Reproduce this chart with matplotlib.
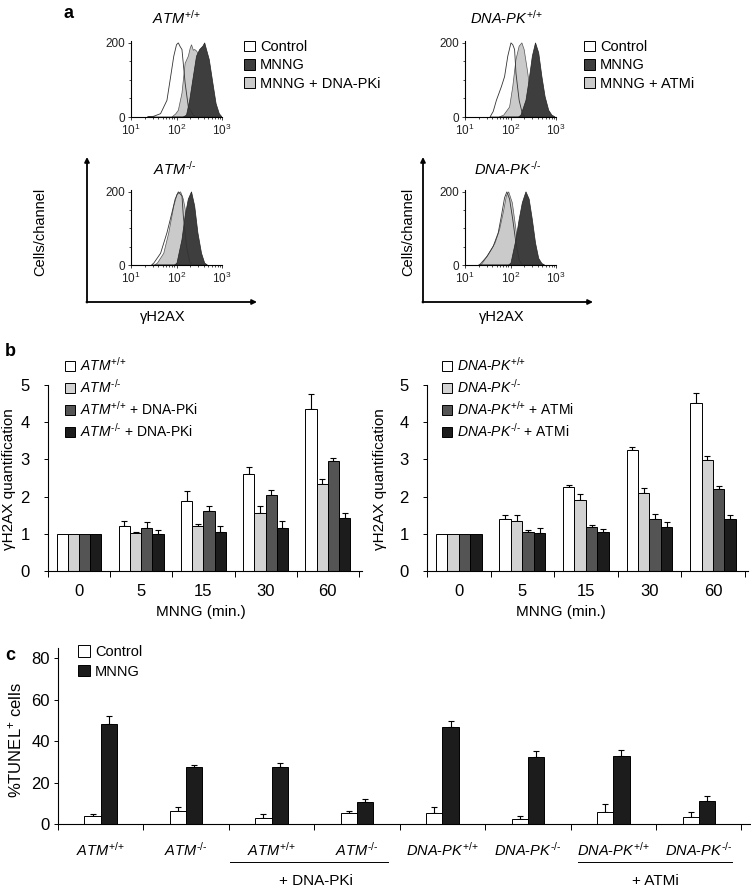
import numpy as np
import matplotlib
matplotlib.use('Agg')
import matplotlib.pyplot as plt
from matplotlib.patches import Patch

plt.rcParams['font.family'] = ['Liberation Sans', 'DejaVu Sans']
plt.rcParams['mathtext.fontset'] = 'custom'
plt.rcParams['mathtext.rm'] = 'Liberation Sans'
plt.rcParams['mathtext.it'] = 'Liberation Sans:italic'
plt.rcParams['mathtext.bf'] = 'Liberation Sans:bold'
plt.rcParams['axes.linewidth'] = 0.8

W, H = 751, 891
HY = '\u2010'

# ---------------- labels ----------------
SUP_WT = '^{{+}/{+}}'
SUP_KO = '^{' + HY + '/' + HY + '}'
ATM_WT = '$\\mathit{ATM}' + SUP_WT + '$'
ATM_KO = '$\\mathit{ATM}' + SUP_KO + '$'
DPK_WT = '$\\mathit{DNA' + HY + 'PK}' + SUP_WT + '$'
DPK_KO = '$\\mathit{DNA' + HY + 'PK}' + SUP_KO + '$'

# ---------------- panel a: histograms (log10 gammaH2AX, cells/channel) ----------------
hist_titles = [ATM_WT, DPK_WT, ATM_KO, DPK_KO]

tl_ctrl_x = [1.36, 1.50, 1.65, 1.79, 1.86, 1.94, 2.00, 2.04, 2.08, 2.12, 2.19, 2.26, 2.37, 2.45]
tl_ctrl_y = [0, 2, 9, 45, 100, 164, 195, 200, 190, 182, 91, 27, 5, 0]
tl_gray_x = [1.90, 1.98, 2.04, 2.12, 2.19, 2.26, 2.30, 2.33, 2.37, 2.40, 2.44, 2.51, 2.58, 2.65, 2.72, 2.80, 2.88]
tl_gray_y = [0, 8, 18, 64, 145, 164, 185, 195, 180, 182, 178, 164, 150, 120, 80, 35, 0]
tl_dark_x = [2.15, 2.22, 2.29, 2.37, 2.44, 2.51, 2.58, 2.62, 2.65, 2.72, 2.80, 2.87, 2.94, 3.00]
tl_dark_y = [0, 5, 45, 109, 164, 182, 191, 200, 186, 155, 91, 36, 9, 0]

tr_ctrl_x = [1.55, 1.62, 1.69, 1.80, 1.87, 1.94, 2.01, 2.05, 2.09, 2.12, 2.19, 2.26, 2.32]
tr_ctrl_y = [0, 15, 45, 82, 109, 164, 200, 195, 182, 118, 45, 9, 0]
tr_gray_x = [1.75, 1.85, 1.98, 2.05, 2.12, 2.19, 2.25, 2.30, 2.37, 2.44, 2.51, 2.59, 2.66]
tr_gray_y = [0, 5, 27, 82, 155, 191, 200, 182, 127, 64, 18, 3, 0]
tr_dark_x = [2.18, 2.23, 2.34, 2.41, 2.48, 2.55, 2.62, 2.69, 2.76, 2.84, 2.91, 2.98]
tr_dark_y = [0, 5, 45, 100, 164, 200, 173, 109, 55, 18, 5, 0]

bl_ctrl_x = [1.45, 1.50, 1.65, 1.79, 1.90, 1.97, 2.04, 2.12, 2.15, 2.22, 2.29, 2.35]
bl_ctrl_y = [0, 5, 32, 88, 143, 180, 200, 189, 134, 51, 9, 0]
bl_gray_x = [1.52, 1.58, 1.72, 1.83, 1.94, 2.01, 2.09, 2.15, 2.22, 2.29, 2.37, 2.44, 2.50]
bl_gray_y = [0, 5, 32, 88, 161, 193, 200, 180, 134, 69, 23, 5, 0]
bl_dark_x = [1.96, 2.01, 2.12, 2.19, 2.26, 2.33, 2.40, 2.47, 2.55, 2.62, 2.68]
bl_dark_y = [0, 5, 69, 134, 180, 200, 161, 88, 32, 5, 0]

br_ctrl_x = [1.30, 1.34, 1.48, 1.62, 1.73, 1.80, 1.87, 1.92, 1.98, 2.05, 2.12, 2.19, 2.26]
br_ctrl_y = [0, 3, 23, 51, 88, 134, 184, 200, 180, 124, 60, 14, 0]
br_gray_x = [1.32, 1.37, 1.51, 1.66, 1.76, 1.84, 1.91, 1.96, 2.04, 2.12, 2.19, 2.26, 2.32]
br_gray_y = [0, 3, 28, 60, 97, 143, 189, 200, 170, 97, 41, 9, 0]
br_dark_x = [1.96, 2.01, 2.12, 2.19, 2.26, 2.34, 2.41, 2.48, 2.55, 2.62, 2.69, 2.75]
br_dark_y = [0, 5, 69, 124, 170, 200, 180, 124, 60, 18, 4, 0]

legend_a_left = ['Control', 'MNNG', 'MNNG + DNA-PKi']
legend_a_right = ['Control', 'MNNG', 'MNNG + ATMi']

# ---------------- panel b: gammaH2AX quantification ----------------
times = ['0', '5', '15', '30', '60']
b_left_labels = [ATM_WT, ATM_KO, ATM_WT + ' + DNA-PKi', ATM_KO + ' + DNA-PKi']
atm_wt = [1.0, 1.22, 1.89, 2.60, 4.35]
atm_wt_err = [0, 0.13, 0.27, 0.20, 0.42]
atm_ko = [1.0, 1.01, 1.20, 1.55, 2.34]
atm_ko_err = [0, 0.04, 0.06, 0.20, 0.13]
atm_wt_dpki = [1.0, 1.15, 1.60, 2.05, 2.95]
atm_wt_dpki_err = [0, 0.18, 0.15, 0.13, 0.09]
atm_ko_dpki = [1.0, 0.99, 1.04, 1.15, 1.42]
atm_ko_dpki_err = [0, 0.10, 0.18, 0.19, 0.14]

b_right_labels = [DPK_WT, DPK_KO, DPK_WT + ' + ATMi', DPK_KO + ' + ATMi']
dpk_wt = [1.0, 1.41, 2.26, 3.25, 4.51]
dpk_wt_err = [0, 0.09, 0.05, 0.07, 0.27]
dpk_ko = [1.0, 1.35, 1.90, 2.11, 2.98]
dpk_ko_err = [0, 0.15, 0.18, 0.12, 0.10]
dpk_wt_atmi = [1.0, 1.05, 1.19, 1.39, 2.20]
dpk_wt_atmi_err = [0, 0.04, 0.06, 0.15, 0.09]
dpk_ko_atmi = [1.0, 1.03, 1.05, 1.19, 1.39]
dpk_ko_atmi_err = [0, 0.13, 0.07, 0.13, 0.11]

# ---------------- panel c: TUNEL ----------------
c_groups = [ATM_WT, ATM_KO, ATM_WT, ATM_KO, DPK_WT, DPK_KO, DPK_WT, DPK_KO]
c_control = [3.8, 6.2, 3.0, 5.1, 5.1, 2.4, 5.6, 3.2]
c_control_err = [0.8, 1.8, 1.6, 1.3, 2.9, 1.4, 4.0, 2.4]
c_mnng = [48.4, 27.6, 27.6, 10.4, 46.8, 32.4, 32.9, 11.1]
c_mnng_err = [3.7, 1.1, 1.9, 1.9, 2.9, 2.9, 2.7, 2.4]

# ---------------- style ----------------
C_WHITE = '#ffffff'
C_LIGHT = '#d2d2d2'
C_DARK = '#545454'
C_BLACK = '#1c1c1c'
H_GRAY = '#cacaca'
H_DARK = '#3e3e3e'

fig = plt.figure(figsize=(W / 100, H / 100), dpi=100)


def add_ax(x0, y0, x1, y1):
    return fig.add_axes([x0 / W, 1 - y1 / H, (x1 - x0) / W, (y1 - y0) / H])


ov = fig.add_axes([0, 0, 1, 1])
ov.set_xlim(0, W)
ov.set_ylim(H, 0)
ov.axis('off')


def hist_ax(box, ctrl, gray, dark, title, title_xy):
    ax = add_ax(*box)
    ax.fill(10 ** np.array(gray[0]), gray[1], facecolor=H_GRAY, edgecolor='#555555', lw=0.5, zorder=1)
    ax.fill(10 ** np.array(dark[0]), dark[1], facecolor=H_DARK, edgecolor='#222222', lw=0.5, zorder=2)
    ax.fill(10 ** np.array(ctrl[0]), ctrl[1], facecolor='none', edgecolor='#333333', lw=0.6, zorder=3)
    ax.set_xscale('log')
    ax.set_xlim(10, 1000)
    ax.set_ylim(0, 205)
    ax.set_yticks([0, 200])
    ax.set_yticks([50, 100, 150], minor=True)
    for s in ['top', 'right']:
        ax.spines[s].set_visible(False)
    ax.tick_params(axis='both', which='major', labelsize=8.5, length=2.5, width=0.6,
                   pad=2, colors='#222222')
    ax.tick_params(axis='both', which='minor', length=1.5, width=0.5)
    ax.patch.set_alpha(0)
    ov.text(title_xy[0], title_xy[1], title, ha='center', va='center', fontsize=10.5)
    return ax


hist_ax((131, 41, 222, 117), (tl_ctrl_x, tl_ctrl_y), (tl_gray_x, tl_gray_y),
        (tl_dark_x, tl_dark_y), hist_titles[0], (176, 18))
hist_ax((465, 41, 556, 117), (tr_ctrl_x, tr_ctrl_y), (tr_gray_x, tr_gray_y),
        (tr_dark_x, tr_dark_y), hist_titles[1], (506, 18))
hist_ax((131, 190, 222, 265), (bl_ctrl_x, bl_ctrl_y), (bl_gray_x, bl_gray_y),
        (bl_dark_x, bl_dark_y), hist_titles[2], (175, 169))
hist_ax((465, 190, 556, 265), (br_ctrl_x, br_ctrl_y), (br_gray_x, br_gray_y),
        (br_dark_x, br_dark_y), hist_titles[3], (508, 169))


def box_legend(labels, colors, x, y, fs, spacing, hl=0.75):
    handles = [Patch(facecolor=c, edgecolor='black', linewidth=0.7) for c in colors]
    fig.legend(handles, labels, loc='upper left', bbox_to_anchor=(x / W, 1 - y / H),
               bbox_transform=fig.transFigure, frameon=False, borderpad=0,
               borderaxespad=0, handlelength=hl, handleheight=hl, handletextpad=0.35,
               labelspacing=spacing, fontsize=fs)


box_legend(legend_a_left, [C_WHITE, H_DARK, H_GRAY], 244, 40, 10.5, 0.3)
box_legend(legend_a_right, [C_WHITE, H_DARK, H_GRAY], 584, 40, 10.5, 0.3)

# axes arrows panel a
arrow_kw = dict(arrowstyle='-|>', lw=1.3, color='black', mutation_scale=7,
                shrinkA=0, shrinkB=0)
for xa, xe in [(87, 257), (423, 593)]:
    ov.annotate('', xy=(xa, 157), xytext=(xa, 302.6), arrowprops=arrow_kw)
    ov.annotate('', xy=(xe, 302), xytext=(xa - 0.6, 302), arrowprops=arrow_kw)
ov.text(40, 232, 'Cells/channel', rotation=90, ha='center', va='center', fontsize=10.5)
ov.text(408, 232, 'Cells/channel', rotation=90, ha='center', va='center', fontsize=10.5)
ov.text(163, 317, '\u03b3H2AX', ha='center', va='center', fontsize=10.5)
ov.text(502, 317, '\u03b3H2AX', ha='center', va='center', fontsize=10.5)

# panel letters
ov.text(68, 14, 'a', ha='center', va='center', fontsize=13, fontweight='bold')
ov.text(10, 352, 'b', ha='center', va='center', fontsize=13, fontweight='bold')
ov.text(10, 655, 'c', ha='center', va='center', fontsize=13, fontweight='bold')


# ---------------- panel b ----------------
def bar_panel(box, series, errs, labels, leg_x, label_x, xlab_x):
    ax = add_ax(*box)
    x = np.arange(len(times))
    colors = [C_WHITE, C_LIGHT, C_DARK, C_BLACK]
    w = 0.18
    offs = [-1.5 * w, -0.5 * w, 0.5 * w, 1.5 * w]
    for s, e, c, o in zip(series, errs, colors, offs):
        ax.bar(x + o, s, width=w, color=c, edgecolor='black', linewidth=0.7, zorder=2)
        s = np.array(s)
        e = np.array(e)
        m = e > 0
        ax.errorbar((x + o)[m], s[m], yerr=[np.zeros(m.sum()), e[m]], fmt='none',
                    ecolor='black', elinewidth=0.8, capsize=2.5, capthick=0.8, zorder=1)
    ax.set_xlim(-0.5, 4.55)
    ax.set_ylim(0, 5)
    ax.set_xticks(x)
    ax.set_xticklabels(times)
    ax.set_xticks(np.arange(-0.5, 5.0, 1.0), minor=True)
    ax.tick_params(axis='x', which='major', length=0, labelsize=12, pad=9)
    ax.tick_params(axis='x', which='minor', length=4, width=0.7, direction='out')
    ax.set_yticks(range(6))
    ax.tick_params(axis='y', length=3, width=0.7, labelsize=12, pad=10)
    for sp in ['top', 'right']:
        ax.spines[sp].set_visible(False)
    ax.patch.set_alpha(0)
    box_legend(labels, colors, leg_x, 356, 10, 0.3, hl=0.7)
    ov.text(label_x, 479, '\u03b3H2AX quantification', rotation=90, ha='center',
            va='center', fontsize=11)
    ov.text(xlab_x, 612, 'MNNG (min.)', ha='center', va='center', fontsize=11)
    return ax


bar_panel((48, 385, 362, 571), [atm_wt, atm_ko, atm_wt_dpki, atm_ko_dpki],
          [atm_wt_err, atm_ko_err, atm_wt_dpki_err, atm_ko_dpki_err],
          b_left_labels, 65, 9, 201)
bar_panel((427, 385, 748, 571), [dpk_wt, dpk_ko, dpk_wt_atmi, dpk_ko_atmi],
          [dpk_wt_err, dpk_ko_err, dpk_wt_atmi_err, dpk_ko_atmi_err],
          b_right_labels, 442, 380, 561)

# ---------------- panel c ----------------
axc = add_ax(58, 648, 750, 824)
xc = np.arange(len(c_groups))
wc = 0.19
axc.bar(xc - wc / 2, c_control, width=wc, color=C_WHITE, edgecolor='black', linewidth=0.7, zorder=2)
axc.bar(xc + wc / 2, c_mnng, width=wc, color=C_BLACK, edgecolor='black', linewidth=0.7, zorder=2)
axc.errorbar(xc - wc / 2, c_control, yerr=[np.zeros(len(xc)), c_control_err], fmt='none',
             ecolor='black', elinewidth=0.8, capsize=2.5, capthick=0.8, zorder=1)
axc.errorbar(xc + wc / 2, c_mnng, yerr=[np.zeros(len(xc)), c_mnng_err], fmt='none',
             ecolor='black', elinewidth=0.8, capsize=2.5, capthick=0.8, zorder=1)
axc.set_xlim(-0.5, 7.6)
axc.set_ylim(0, 85)
axc.set_yticks([0, 20, 40, 60, 80])
axc.set_xticks(xc)
axc.set_xticklabels(c_groups)
axc.set_xticks(np.arange(-0.5, 8.0, 1.0), minor=True)
axc.tick_params(axis='x', which='major', length=0, labelsize=10.5, pad=12)
axc.tick_params(axis='x', which='minor', length=4, width=0.7, direction='out')
axc.tick_params(axis='y', length=3, width=0.7, labelsize=12, pad=3)
for sp in ['top', 'right']:
    axc.spines[sp].set_visible(False)
axc.patch.set_alpha(0)
box_legend(['Control', 'MNNG'], [C_WHITE, C_BLACK], 78, 645, 10.5, 0.4, hl=0.8)
ov.text(15, 740, '%TUNEL$^{+}$ cells', rotation=90, ha='center', va='center', fontsize=12)
ov.plot([230, 388], [862, 862], color='black', lw=0.7)
ov.plot([578, 732], [862, 862], color='black', lw=0.7)
ov.text(316, 881, '+ DNA-PKi', ha='center', va='center', fontsize=11)
ov.text(655, 881, '+ ATMi', ha='center', va='center', fontsize=11)

fig.savefig('out.png', dpi=100)
